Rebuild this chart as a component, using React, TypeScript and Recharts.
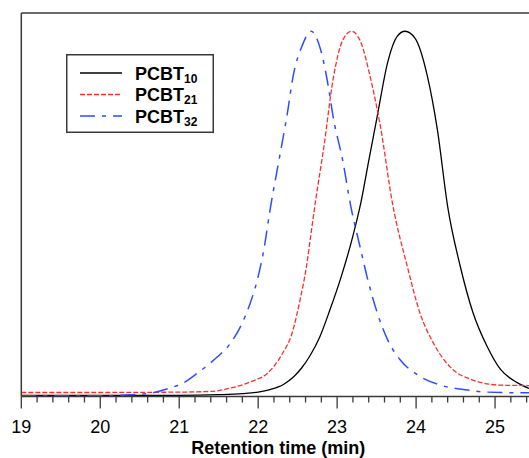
import { LineChart, Line, XAxis, YAxis, Legend } from 'recharts';

const FONT = '"Liberation Sans", Arial, Helvetica, sans-serif';

// retention time (min) and normalised detector signal
const pcbt10Time = [19.0, 20.0, 21.0, 21.5, 21.8, 22.0, 22.15, 22.32, 22.45, 22.55, 22.66, 22.78, 22.91, 23.04, 23.2, 23.3, 23.4, 23.51, 23.64, 23.76, 23.86, 23.99, 24.14, 24.27, 24.4, 24.56, 24.72, 24.9, 25.07, 25.28, 25.43];
const pcbt10Signal = [0.003, 0.003, 0.003, 0.005, 0.008, 0.012, 0.019, 0.033, 0.054, 0.078, 0.113, 0.163, 0.238, 0.32, 0.44, 0.53, 0.645, 0.77, 0.915, 0.986, 1.0, 0.98, 0.88, 0.73, 0.52, 0.356, 0.23, 0.137, 0.074, 0.038, 0.022];

const pcbt21Time = [19.0, 20.0, 21.0, 21.4, 21.65, 21.9, 22.12, 22.3, 22.43, 22.53, 22.61, 22.67, 22.73, 22.83, 22.95, 23.07, 23.18, 23.29, 23.42, 23.55, 23.7, 23.89, 24.05, 24.22, 24.43, 24.72, 25.07, 25.43];
const pcbt21Signal = [0.011, 0.011, 0.012, 0.014, 0.023, 0.04, 0.064, 0.115, 0.174, 0.264, 0.354, 0.447, 0.54, 0.68, 0.87, 0.975, 1.0, 0.975, 0.874, 0.737, 0.53, 0.355, 0.228, 0.146, 0.081, 0.045, 0.031, 0.03];

const pcbt32Time = [19.0, 20.0, 20.4, 20.63, 20.88, 21.05, 21.23, 21.48, 21.65, 21.81, 21.9, 21.99, 22.07, 22.15, 22.27, 22.37, 22.44, 22.56, 22.67, 22.79, 22.89, 22.95, 23.07, 23.17, 23.29, 23.38, 23.51, 23.64, 23.8, 24.02, 24.31, 24.65, 24.9, 25.43];
const pcbt32Signal = [0.002, 0.002, 0.005, 0.009, 0.023, 0.037, 0.064, 0.108, 0.146, 0.207, 0.256, 0.32, 0.4, 0.51, 0.655, 0.776, 0.874, 0.962, 1.0, 0.95, 0.847, 0.765, 0.647, 0.524, 0.41, 0.327, 0.228, 0.155, 0.1, 0.059, 0.031, 0.018, 0.012, 0.01];

const majorTicks = [19, 20, 21, 22, 23, 24, 25];
const minorTicks = majorTicks.flatMap((m) => [0.2, 0.4, 0.6, 0.8].map((f) => Math.round((m + f) * 10) / 10)).filter((t) => t < 25.43);
const allTicks = [...majorTicks, ...minorTicks].sort((a, b) => a - b);

const toPoints = (t: number[], v: number[]) => t.map((x, i) => ({ t: x, v: v[i] }));

const series = [
  { name: 'PCBT', sub: '10', data: toPoints(pcbt10Time, pcbt10Signal), color: '#000000', dash: undefined, width: 1.3 },
  { name: 'PCBT', sub: '21', data: toPoints(pcbt21Time, pcbt21Signal), color: '#ff2e2e', dash: '5 2', width: 1.3 },
  { name: 'PCBT', sub: '32', data: toPoints(pcbt32Time, pcbt32Signal), color: '#2e4dff', dash: '15 7 4 7', width: 1.5 },
];

const AXIS = '#3a3a3a';

function TimeTick({ x, y, payload }: any) {
  const v = payload.value;
  const major = Math.abs(v - Math.round(v)) < 1e-6;
  return (
    <g>
      <line x1={x} x2={x} y1={y} y2={y + (major ? 12 : 6)} stroke={AXIS} strokeWidth={1.3} />
      {major && (
        <text x={x} y={y + 36} textAnchor="middle" fontSize={18} fontFamily={FONT} fill="#000">
          {Math.round(v)}
        </text>
      )}
    </g>
  );
}

function SeriesKey() {
  return (
    <svg width={148} height={79} style={{ display: 'block' }}>
      <rect x={0.75} y={0.75} width={146.5} height={77.5} fill="#fff" stroke={AXIS} strokeWidth={1.5} />
      {series.map((s, i) => {
        const cy = 19 + i * 21.5;
        return (
          <g key={s.sub}>
            <line x1={14} x2={56} y1={cy} y2={cy} stroke={s.color} strokeWidth={s.width} strokeDasharray={s.dash} />
            <text x={69} y={cy + 6.5} fontSize={18} fontWeight="bold" fontFamily={FONT} fill="#000">
              {s.name}
              <tspan fontSize={12} dy={3}>{s.sub}</tspan>
            </text>
          </g>
        );
      })}
    </svg>
  );
}

export default function App() {
  return (
    <div style={{ position: 'fixed', left: 0, top: 0, width: 529, height: 458, background: '#fff' }}>
      <LineChart width={529} height={458} margin={{ top: 12, right: 0, bottom: 0, left: 0 }}>
        <XAxis
          dataKey="t"
          type="number"
          domain={[19, 25.43]}
          allowDataOverflow
          ticks={allTicks}
          interval={0}
          tickSize={0}
          tickMargin={0}
          tick={<TimeTick />}
          height={61.5}
          axisLine={{ stroke: AXIS, strokeWidth: 1.5 }}
          label={{
            value: 'Retention time (min)',
            position: 'insideBottom',
            offset: 4,
            dx: 3,
            style: { fontSize: 18, fontWeight: 'bold', fontFamily: FONT, fill: '#000' },
          }}
        />
        <XAxis
          xAxisId="top"
          orientation="top"
          type="number"
          domain={[19, 25.43]}
          height={1}
          ticks={[]}
          tick={false}
          tickLine={false}
          axisLine={{ stroke: AXIS, strokeWidth: 1.5 }}
        />
        <YAxis
          type="number"
          domain={[0, 1.05]}
          allowDataOverflow
          width={21.3}
          tick={false}
          tickLine={false}
          axisLine={{ stroke: AXIS, strokeWidth: 1.5 }}
        />
        <Legend
          layout="vertical"
          align="center"
          verticalAlign="middle"
          content={<SeriesKey />}
          wrapperStyle={{ left: 66, top: 54, width: 148, height: 79 }}
        />
        {series.map((s) => (
          <Line
            key={s.sub}
            name={s.name + s.sub}
            data={s.data}
            dataKey="v"
            type="monotone"
            stroke={s.color}
            strokeWidth={s.width}
            strokeDasharray={s.dash}
            dot={false}
            activeDot={false}
            isAnimationActive={false}
          />
        ))}
      </LineChart>
    </div>
  );
}
